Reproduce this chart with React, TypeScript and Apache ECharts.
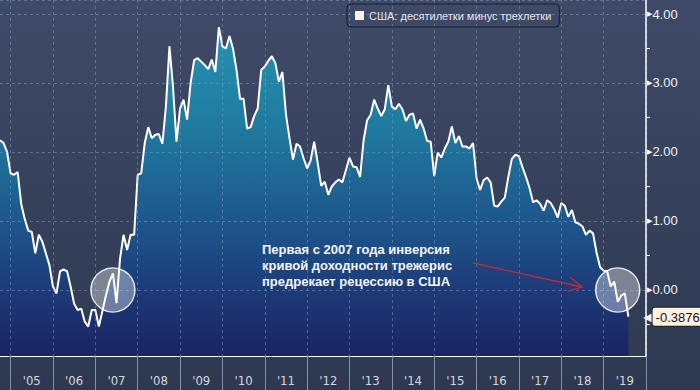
import React, { useEffect, useRef } from 'react';
import * as echarts from 'echarts';

// Monthly categories, Oct 2004 .. Jan 2020
const START_YEAR = 2004;
const START_MONTH = 10;
const MONTH_COUNT = 184;
const months: string[] = [];
for (let i = 0; i < MONTH_COUNT; i++) {
  const m = START_MONTH - 1 + i;
  const y = START_YEAR + Math.floor(m / 12);
  const mm = (m % 12) + 1;
  months.push(`${y}-${String(mm).padStart(2, '0')}`);
}

const seriesName = 'США: десятилетки минус трехлетки';

// spread, % points (Oct 2004 .. Aug 2019)
const spread: number[] = [
  2.17, 2.13, 2.0,
  1.69, 1.67, 1.71, 1.25, 1.03, 0.86, 0.84, 0.53, 0.8, 0.7, 0.53, 0.36,
  0.05, -0.05, 0.27, 0.3, 0.27, 0.05, -0.2, -0.29, -0.27, -0.46, -0.53, -0.29,
  -0.29, -0.53, -0.31, -0.08, 0.12, 0.24, -0.19, 0.45, 0.8, 0.58, 0.8, 0.8,
  1.67, 1.69, 2.13, 2.36, 2.2, 2.25, 2.26, 2.12, 2.66, 3.53, 2.95, 2.15,
  2.63, 2.76, 2.47, 3.0, 3.33, 3.36, 3.31, 3.26, 3.2, 3.34, 3.16, 3.81,
  3.53, 3.5, 3.68, 3.5, 3.19, 2.77, 2.77, 2.34, 2.36, 2.52, 2.63, 3.19,
  3.24, 3.32, 3.39, 3.29, 3.02, 3.16, 2.55, 2.2, 1.89, 2.12, 2.08, 1.91,
  1.76, 1.88, 2.15, 1.84, 1.51, 1.57, 1.38, 1.5, 1.56, 1.6, 1.56, 1.74,
  1.92, 1.79, 1.78, 1.64, 2.17, 2.46, 2.54, 2.76, 2.63, 2.52, 2.62, 2.97,
  2.66, 2.62, 2.7, 2.62, 2.45, 2.54, 2.56, 2.34, 2.47, 2.34, 2.16, 2.15,
  1.65, 1.99, 1.92, 2.05, 2.15, 2.37, 2.13, 2.23, 2.08, 2.08, 2.05, 2.13,
  1.62, 1.45, 1.59, 1.63, 1.56, 1.22, 1.21, 1.28, 1.34, 1.64, 1.9, 1.96,
  1.94, 1.78, 1.64, 1.48, 1.27, 1.3, 1.25, 1.15, 1.3, 1.26, 1.17, 1.05,
  1.26, 1.22, 1.06, 1.16, 0.98, 0.96, 0.92, 0.8, 0.86, 0.82, 0.54, 0.33,
  0.28, 0.27, 0.05, 0.12, -0.17, -0.08, -0.05, -0.3876,
];

// inversion moments marked with circles
const inversionMarks: string[] = ['2007-06', '2019-05'];

const annotationLines: string[] = [
  'Первая с 2007 года инверсия',
  'кривой доходности трежерис',
  'предрекает рецессию в США',
];

const FONT = "'Liberation Sans', Arial, sans-serif";
const NARROW = "'Liberation Sans Narrow', 'DejaVu Sans Condensed', 'Liberation Sans', Arial, sans-serif";

export default function App() {
  const ref = useRef<HTMLDivElement>(null);
  useEffect(() => {
    if (!ref.current) return;
    const chart = echarts.init(ref.current, null, { renderer: 'svg' });
    const gridLine = { color: 'rgba(140,162,198,0.45)', type: [3, 3] as number[], width: 1 };
    const option: any = {
      animation: false,
      backgroundColor: new echarts.graphic.LinearGradient(0, 0, 0, 1, [
        { offset: 0, color: '#3e4a67' },
        { offset: 1, color: '#2e3951' },
      ]),
      textStyle: { fontFamily: FONT },
      grid: { left: 0, right: 54, top: 0, bottom: 34, containLabel: false },
      legend: {
        left: 347,
        top: 4,
        padding: [6, 8],
        itemWidth: 9,
        itemHeight: 9,
        backgroundColor: 'rgba(0,0,0,0)',
        borderColor: '#161c2a',
        borderWidth: 1,
        borderRadius: 4,
        selectedMode: false,
        textStyle: { color: '#e4e6ea', fontSize: 11, fontFamily: FONT },
        data: [{ name: seriesName, icon: 'rect', itemStyle: { color: '#fdefe9' } }],
      },
      xAxis: {
        type: 'category',
        data: months,
        boundaryGap: false,
        z: 3,
        axisLine: { onZero: false, lineStyle: { color: '#ffffff', width: 1 } },
        axisTick: {
          interval: (_i: number, v: string) => v.endsWith('-01'),
          length: 34,
          lineStyle: { color: '#8791a6', width: 1 },
        },
        axisLabel: {
          interval: (_i: number, v: string) => v.endsWith('-07'),
          formatter: (v: string) => "'" + v.slice(2, 4),
          color: '#d3d7de',
          fontSize: 13,
          fontFamily: NARROW,
          margin: 18,
        },
        splitLine: {
          show: true,
          interval: (_i: number, v: string) => v.endsWith('-01'),
          lineStyle: gridLine,
        },
      },
      yAxis: {
        type: 'value',
        position: 'right',
        min: -0.957,
        max: 4.203,
        splitNumber: 5,
        z: 3,
        axisLine: { show: true, lineStyle: { color: '#ffffff', width: 1.5 } },
        axisTick: { show: false },
        minorTick: { show: true, splitNumber: 2, length: 4, lineStyle: { color: '#ffffff', width: 1 } },
        axisLabel: {
          showMinLabel: false,
          showMaxLabel: false,
          margin: 1,
          formatter: (v: number) => `{t|▶}{v|${v.toFixed(2)}}`,
          rich: {
            t: { fontSize: 7, color: '#ffffff', fontFamily: 'DejaVu Sans' },
            v: { fontSize: 13, color: '#f2f3f5', fontFamily: FONT },
          },
        },
        splitLine: { show: true, lineStyle: gridLine },
      },
      series: [
        {
          type: 'line',
          name: seriesName,
          data: spread,
          symbol: 'none',
          showSymbol: false,
          z: 2,
          lineStyle: { color: '#ffffff', width: 2 },
          itemStyle: { color: '#fdefe9' },
          areaStyle: {
            origin: 'start',
            opacity: 1,
            color: new echarts.graphic.LinearGradient(
              0, 0, 0, 356,
              [
                { offset: 0, color: '#2699b4' },
                { offset: 0.35, color: '#1f7ba0' },
                { offset: 0.65, color: '#1d5389' },
                { offset: 0.85, color: '#1c3674' },
                { offset: 1, color: '#1b2461' },
              ],
              true
            ),
          },
          endLabel: {
            show: true,
            distance: 15,
            formatter: (p: any) =>
              `{a|◀}{b|${Number(Array.isArray(p.value) ? p.value[1] : p.value).toFixed(4)}}`,
            rich: {
              a: {
                color: '#fdf2e2',
                fontSize: 12,
                fontFamily: 'DejaVu Sans',
                padding: [0, 0, 0, 0],
              },
              b: {
                backgroundColor: '#fdf2e2',
                borderColor: '#1c1c1c',
                borderWidth: 1,
                borderRadius: 2,
                padding: [3, 6, 2, 3],
                color: '#151515',
                fontSize: 13,
                fontFamily: FONT,
              },
            },
          },
          markPoint: {
            symbol: 'circle',
            symbolSize: 44,
            silent: true,
            label: { show: false },
            itemStyle: {
              color: 'rgba(255,255,255,0.36)',
              borderColor: 'rgba(255,255,255,0.85)',
              borderWidth: 1.5,
            },
            data: inversionMarks.map((m) => ({ coord: [m, 0] })),
          },
        },
      ],
      graphic: [
        {
          type: 'text',
          left: 262,
          top: 241,
          z: 10,
          style: {
            text: annotationLines.join('\n'),
            fill: '#f4f5f7',
            fontSize: 13,
            fontWeight: 'bold',
            fontFamily: FONT,
            lineHeight: 16,
          },
        },
        {
          type: 'line',
          z: 10,
          shape: { x1: 473, y1: 263, x2: 582, y2: 287 },
          style: { stroke: '#c9283b', lineWidth: 1.3 },
        },
        {
          type: 'polyline',
          z: 10,
          shape: { points: [[570, 277], [582, 287], [568, 291]] },
          style: { stroke: '#c9283b', lineWidth: 1.3, fill: 'none' },
        },
      ],
    };
    chart.setOption(option);
    return () => chart.dispose();
  }, []);
  return <div ref={ref} style={{ position: 'fixed', left: 0, top: 0, width: 700, height: 390 }} />;
}
